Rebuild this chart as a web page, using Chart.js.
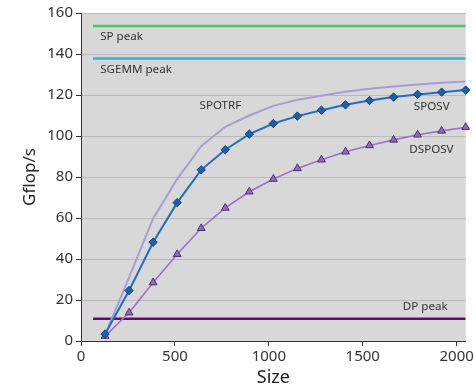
<!DOCTYPE html>
<html>
<head>
<meta charset="utf-8">
<script src="https://cdn.jsdelivr.net/npm/chart.js@4/dist/chart.umd.min.js"></script>
<style>
  html, body { margin: 0; padding: 0; background: #fff; }
  #wrap { width: 476px; height: 389px; }
</style>
</head>
<body>
<div id="wrap"><canvas id="perfChart" width="476" height="389"></canvas></div>
<script>
/* ====== DATA ====== */
var sizes = [128, 256, 384, 512, 640, 768, 896, 1024, 1152, 1280, 1408, 1536, 1664, 1792, 1920, 2048];
var sposv = [3.4, 24.6, 48.2, 67.5, 83.5, 93.3, 100.9, 106.1, 109.7, 112.6, 115.2, 117.3, 119.0, 120.3, 121.4, 122.4];
var dsposv = [2.4, 13.8, 28.5, 42.3, 55.0, 64.9, 72.8, 79.0, 84.2, 88.4, 92.3, 95.4, 98.1, 100.6, 102.5, 104.3];
var spotrf = [3.0, 31.0, 59.8, 79.0, 95.0, 104.5, 110.0, 114.7, 117.7, 119.6, 121.6, 123.0, 124.2, 125.1, 126.0, 126.6];

var peakRange = [64, 2048];
var spPeak = 153.6;
var sgemmPeak = 137.8;
var dpPeak = 10.8;

var xTicks = [0, 500, 1000, 1500, 2000];
var yTicks = [0, 20, 40, 60, 80, 100, 120, 140, 160];

// text labels placed in data units: [text, size, gflops]
var notes = [
    ["SP peak", 102, 148.4],
    ["SGEMM peak", 102, 132.3],
    ["SPOTRF", 631, 114.9],
    ["SPOSV", 1772, 114.4],
    ["DSPOSV", 1748, 93.3],
    ["DP peak", 1713, 16.7]
];

function pairs(xs, ys) {
    return xs.map(function (x, i) { return { x: x, y: ys[i] }; });
}
function flat(v) {
    return peakRange.map(function (x) { return { x: x, y: v }; });
}
function fixedTicks(list) {
    return function (s) {
        s.ticks = list.map(function (v) { return { value: v }; });
    };
}

/* ====== PLUGINS ====== */
var plotBg = {
    id: "plotBg",
    beforeDraw: function (c) {
        var a = c.chartArea, ctx = c.ctx;
        ctx.save();
        ctx.fillStyle = "#d8d8d8";
        ctx.fillRect(a.left, a.top, a.right - a.left, a.bottom - a.top);
        ctx.restore();
    }
};

var noteLabels = {
    id: "noteLabels",
    afterDatasetsDraw: function (c) {
        var ctx = c.ctx, xs = c.scales.x, ys = c.scales.y;
        ctx.save();
        ctx.font = "11.6px 'Noto Sans', sans-serif";
        ctx.fillStyle = "#333";
        ctx.textBaseline = "middle";
        ctx.textAlign = "left";
        notes.forEach(function (n) {
            ctx.fillText(n[0], xs.getPixelForValue(n[1]), ys.getPixelForValue(n[2]));
        });
        ctx.restore();
    }
};

/* ====== CHART ====== */
var tickFont = { size: 15, family: "'Noto Sans', sans-serif" };
var ctx = document.getElementById("perfChart").getContext("2d");
new Chart(ctx, {
    type: "line",
    data: {
        datasets: [
            {
                label: "SP peak", data: flat(spPeak),
                borderColor: "#4ec46c", borderWidth: 2.5, pointRadius: 0, order: 10
            },
            {
                label: "SGEMM peak", data: flat(sgemmPeak),
                borderColor: "#39afd6", borderWidth: 2.5, pointRadius: 0, order: 10
            },
            {
                label: "DP peak", data: flat(dpPeak),
                borderColor: "#690a6a", borderWidth: 2.5, pointRadius: 0, order: 10
            },
            {
                label: "SPOTRF", data: pairs(sizes, spotrf),
                borderColor: "#a99cd4", borderWidth: 2, pointRadius: 0, order: 5
            },
            {
                label: "DSPOSV", data: pairs(sizes, dsposv),
                borderColor: "#9a70d2", borderWidth: 1.6,
                pointStyle: "triangle", pointRadius: 4.5,
                pointBackgroundColor: "#8d6cc0", pointBorderColor: "#4b3272", pointBorderWidth: 1,
                order: 2, clip: false
            },
            {
                label: "SPOSV", data: pairs(sizes, sposv),
                borderColor: "#1f6ec4", borderWidth: 2,
                pointStyle: "rectRot", pointRadius: 4.2,
                pointBackgroundColor: "#1e5fb0", pointBorderColor: "#123f7c", pointBorderWidth: 1,
                order: 1, clip: false
            }
        ]
    },
    options: {
        responsive: false,
        animation: false,
        layout: { padding: { left: 0, top: 13, right: 7, bottom: 0 } },
        plugins: {
            legend: { display: false },
            tooltip: { enabled: false }
        },
        scales: {
            x: {
                type: "linear", min: 0, max: 2048,
                afterFit: function (s) { s.height = 48; },
                afterBuildTicks: fixedTicks(xTicks),
                ticks: {
                    padding: 2, color: "#333", font: tickFont,
                    callback: function (v) { return String(v); }
                },
                grid: { drawOnChartArea: false, drawTicks: true, tickLength: 5, color: "#333" },
                border: { color: "#333", width: 1 },
                title: {
                    display: true, text: "Size", color: "#222",
                    font: { size: 18, family: "'Noto Sans', sans-serif" },
                    padding: { top: 0, bottom: 0 }
                }
            },
            y: {
                min: 0, max: 160,
                afterFit: function (s) { s.width = 81; },
                afterBuildTicks: fixedTicks(yTicks),
                ticks: {
                    padding: 3, color: "#333", font: tickFont,
                    callback: function (v) { return String(v); }
                },
                grid: { color: "#b9b9b9", tickColor: "#333", tickLength: 5, lineWidth: 1 },
                border: { color: "#333", width: 1 },
                title: {
                    display: true, text: "Gflop/s", color: "#222",
                    font: { size: 17, family: "'Noto Sans', sans-serif" },
                    padding: { top: 20, bottom: 0 }
                }
            }
        }
    },
    plugins: [plotBg, noteLabels]
});
</script>
</body>
</html>
